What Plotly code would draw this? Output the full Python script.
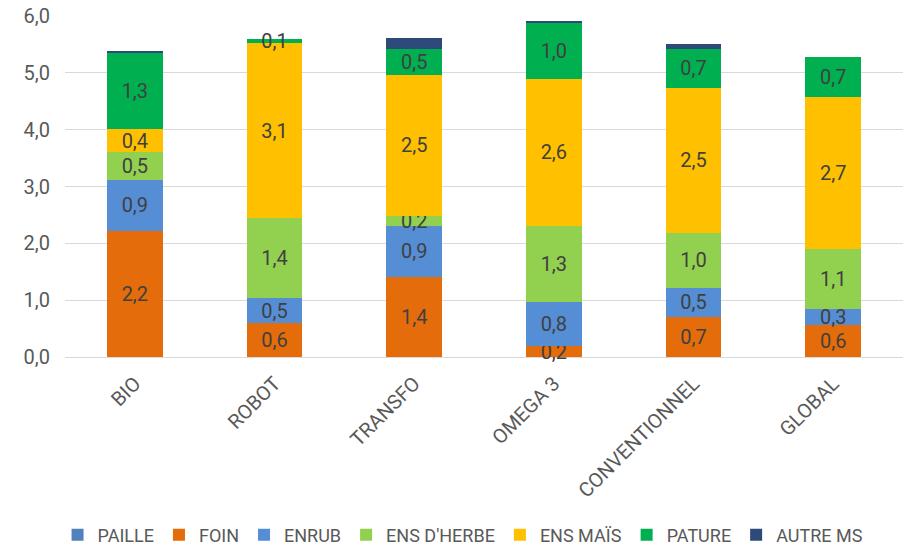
import plotly.graph_objects as go

# Categories (farm groups) and stacked feed components (t MS)
categories = ["BIO", "ROBOT", "TRANSFO", "OMEGA 3", "CONVENTIONNEL", "GLOBAL"]

paille = [0.0, 0.0, 0.0, 0.0, 0.0, 0.0]
foin = [2.22, 0.59, 1.41, 0.19, 0.70, 0.56]
enrub = [0.90, 0.45, 0.90, 0.78, 0.52, 0.29]
ens_herbe = [0.48, 1.41, 0.17, 1.34, 0.97, 1.05]
ens_mais = [0.41, 3.07, 2.49, 2.58, 2.55, 2.67]
pature = [1.34, 0.07, 0.45, 1.00, 0.68, 0.70]
autre_ms = [0.02, 0.0, 0.20, 0.02, 0.09, 0.0]

y_ticks = [0, 1, 2, 3, 4, 5, 6]

FONT = "Roboto, sans-serif"
TEXT_COLOR = "#404040"
AXIS_COLOR = "#595959"

series = [
    ("PAILLE", paille, "#4F81BD", False),
    ("FOIN", foin, "#E46C0A", True),
    ("ENRUB", enrub, "#558ED5", True),
    ("ENS D'HERBE", ens_herbe, "#92D050", True),
    ("ENS MAÏS", ens_mais, "#FFC000", True),
    ("PATURE", pature, "#00B050", True),
    ("AUTRE MS", autre_ms, "#2E4A7A", False),
]

fig = go.Figure()
for name, vals, color, labelled in series:
    fig.add_trace(go.Bar(
        name=name,
        x=categories,
        y=vals,
        marker=dict(color=color, line=dict(width=0)),
        texttemplate="%{y:.1f}" if labelled else None,
        textposition="inside" if labelled else "none",
        insidetextanchor="middle",
        textangle=0,
        textfont=dict(family=FONT, size=20, color=TEXT_COLOR),
        cliponaxis=False,
    ))

fig.update_layout(
    barmode="stack",
    bargap=0.6,
    width=903,
    height=549,
    margin=dict(l=65, r=0, t=16, b=192, autoexpand=False),
    paper_bgcolor="white",
    plot_bgcolor="white",
    separators=", ",
    font=dict(family=FONT, size=18, color=AXIS_COLOR),
    uniformtext=dict(minsize=20, mode="show"),
    showlegend=True,
    legend=dict(
        orientation="h",
        traceorder="normal",
        x=0.475, xanchor="center",
        y=-0.522, yanchor="middle",
        font=dict(family=FONT, size=18, color=AXIS_COLOR),
        itemwidth=30,
        tracegroupgap=0,
    ),
    xaxis=dict(
        tickangle=-45,
        tickfont=dict(family=FONT, size=20, color=AXIS_COLOR),
        ticklabelstandoff=10,
        automargin=False,
        showline=False,
        ticks="",
    ),
    yaxis=dict(
        range=[0, 6],
        tickvals=y_ticks,
        tickformat=".1f",
        showgrid=True,
        gridcolor="#D9D9D9",
        gridwidth=1,
        zeroline=True,
        zerolinecolor="#D9D9D9",
        zerolinewidth=1,
        tickfont=dict(family=FONT, size=20, color=AXIS_COLOR),
        ticklabelstandoff=14,
        automargin=False,
        ticks="",
    ),
)

fig.write_html("out.html")
